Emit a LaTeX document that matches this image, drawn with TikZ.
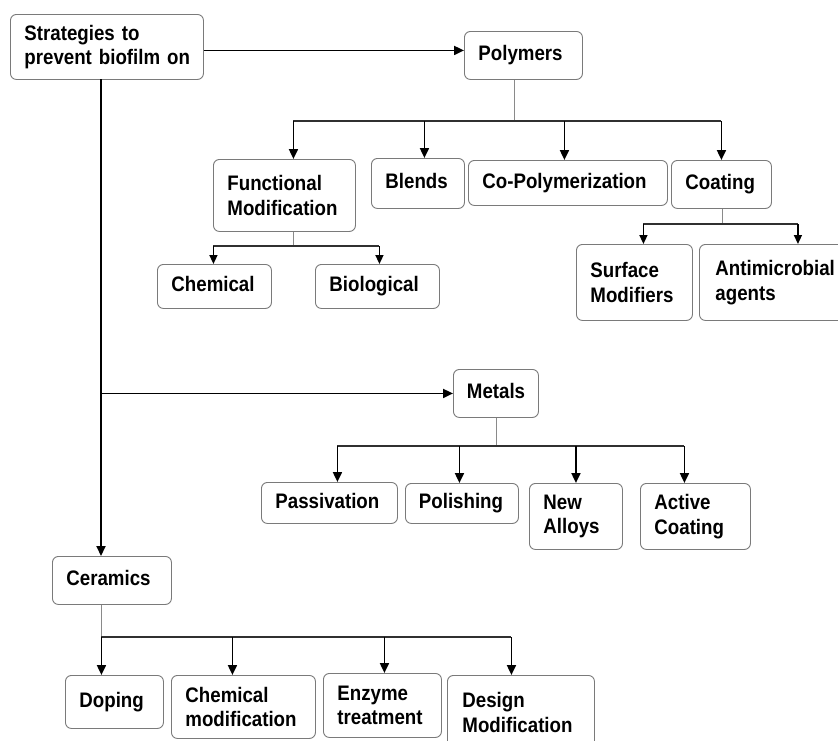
\documentclass[tikz,border=0pt]{standalone}
\usepackage{fontspec}
\newfontfamily\lab{Liberation Sans}[FakeStretch=0.89]
\usetikzlibrary{arrows.meta}
\hyphenpenalty=10000
\exhyphenpenalty=10000
\definecolor{boxgray}{HTML}{7A7A7A}
\definecolor{stemgray}{HTML}{8A8A8A}
\definecolor{barcol}{HTML}{303030}
\begin{document}
\begin{tikzpicture}[x=1pt,y=-1pt,
  box/.style={draw=boxgray, line width=0.9pt, rounded corners=6pt, anchor=north west,
    inner xsep=14pt, inner ysep=0pt, align=left,
    font=\lab\bfseries\fontsize{21}{24.5}\selectfont},
  one/.style={text height=15pt, text depth=4.5pt},
  arr/.style={line width=1.9pt, -{Triangle[length=10pt,width=9pt]}},
  arrs/.style={line width=1.5pt, -{Triangle[length=9pt,width=8pt]}},
  bar/.style={draw=barcol, line width=1.4pt},
  stem/.style={draw=stemgray, line width=1pt},
  trunk/.style={line width=1.9pt}]
\useasboundingbox (0,0) rectangle (838,740);
\fill[white] (0,0) rectangle (838,740);

% nodes
\node[box, text width=165pt, minimum height=65pt] (root) at (10,14) {Strategies~to\\prevent~biofilm~on};
\node[box, one, text width=90pt, minimum height=48pt] (poly) at (464,31) {Polymers};
\node[box, text width=114pt, minimum height=72pt] (func) at (213,159) {Functional\\Modification};
\node[box, one, text width=65pt, minimum height=50pt] (blends) at (371,158) {Blends};
\node[box, one, text width=171pt, minimum height=45pt] (copoly) at (468,160) {Co-Polymerization};
\node[box, one, text width=72pt, minimum height=48pt] (coating) at (671,160) {Coating};
\node[box, one, text width=86pt, minimum height=44pt] (chem) at (157,264) {Chemical};
\node[box, one, text width=96pt, minimum height=44pt] (bio) at (315,264) {Biological};
\node[box, text width=88pt, minimum height=76pt] (surf) at (576,244) {Surface\\Modifiers};
\node[box, text width=132pt, minimum height=76pt, inner xsep=16pt] (anti) at (699,244) {Antimicrobial\\agents};
\node[box, one, text width=58pt, minimum height=48pt, inner xsep=13.5pt] (metals) at (453,369) {Metals};
\node[box, one, text width=108pt, minimum height=41pt] (pass) at (261,482) {Passivation};
\node[box, one, text width=86pt, minimum height=40pt, inner xsep=13.5pt] (polish) at (405,483) {Polishing};
\node[box, text width=65pt, minimum height=66pt] (alloys) at (529,483) {New\\Alloys};
\node[box, text width=82pt, minimum height=66pt] (active) at (640,483) {Active\\Coating};
\node[box, one, text width=91pt, minimum height=48pt] (ceram) at (52,556) {Ceramics};
\node[box, one, text width=70pt, minimum height=53pt] (doping) at (65,675) {Doping};
\node[box, text width=116pt, minimum height=63pt] (chemmod) at (171,675) {Chemical\\modification};
\node[box, text width=90pt, minimum height=64pt] (enzyme) at (323,673) {Enzyme\\treatment};
\node[box, text width=117pt, minimum height=74pt, inner xsep=15pt] (design) at (447,675) {Design\\Modification};

% main trunk
\coordinate (tr) at (101,79);
\draw[trunk, -{Triangle[length=10pt,width=9pt]}] (tr) -- (tr |- ceram.north);
\draw[arr] ([yshift=-3.5pt]root.east) -- ([yshift=-3.5pt]root.east -| poly.west);
\draw[arr] (tr |- metals.west) -- (metals.west);

% polymers
\coordinate (pb) at (514,121);
\draw[stem] (poly.south -| pb) -- (pb);
\draw[bar] ([xshift=9pt]func.north |- pb) -- (coating.north |- pb);
\foreach \n/\s in {func/9,blends/6.5,copoly/-3.5,coating/0}
  \draw[arr] ([xshift=\s pt]\n.north |- pb) -- ([xshift=\s pt]\n.north);

% functional modification
\coordinate (fb) at (293,246);
\draw[stem] (func.south -| fb) -- (fb);
\draw[bar] ([xshift=-1pt]chem.north |- fb) -- ([xshift=2pt]bio.north |- fb);
\foreach \n/\s in {chem/-1,bio/2}
  \draw[arrs] ([xshift=\s pt]\n.north |- fb) -- ([xshift=\s pt]\n.north);

% coating
\coordinate (cb) at (722,224);
\draw[stem] (coating.south -| cb) -- (cb);
\draw[bar] ([xshift=9pt]surf.north |- cb) -- ([xshift=16.5pt]anti.north |- cb);
\foreach \n/\s in {surf/9,anti/16.5}
  \draw[arrs] ([xshift=\s pt]\n.north |- cb) -- ([xshift=\s pt]\n.north);

% metals
\coordinate (mb) at (496,446);
\draw[stem] (metals.south -| mb) -- (mb);
\draw[bar] ([xshift=8pt]pass.north |- mb) -- ([xshift=-11pt]active.north |- mb);
\foreach \n/\s in {pass/8,polish/-2.5,alloys/0,active/-11}
  \draw[arr] ([xshift=\s pt]\n.north |- mb) -- ([xshift=\s pt]\n.north);

% ceramics
\coordinate (kb) at (101,637);
\draw[stem] (ceram.south -| kb) -- (kb);
\draw[bar] ([xshift=-13pt]doping.north |- kb) -- ([xshift=-9.5pt]design.north |- kb);
\foreach \n/\s in {doping/-13,chemmod/-11,enzyme/2,design/-9.5}
  \draw[arr] ([xshift=\s pt]\n.north |- kb) -- ([xshift=\s pt]\n.north);
\end{tikzpicture}
\end{document}
